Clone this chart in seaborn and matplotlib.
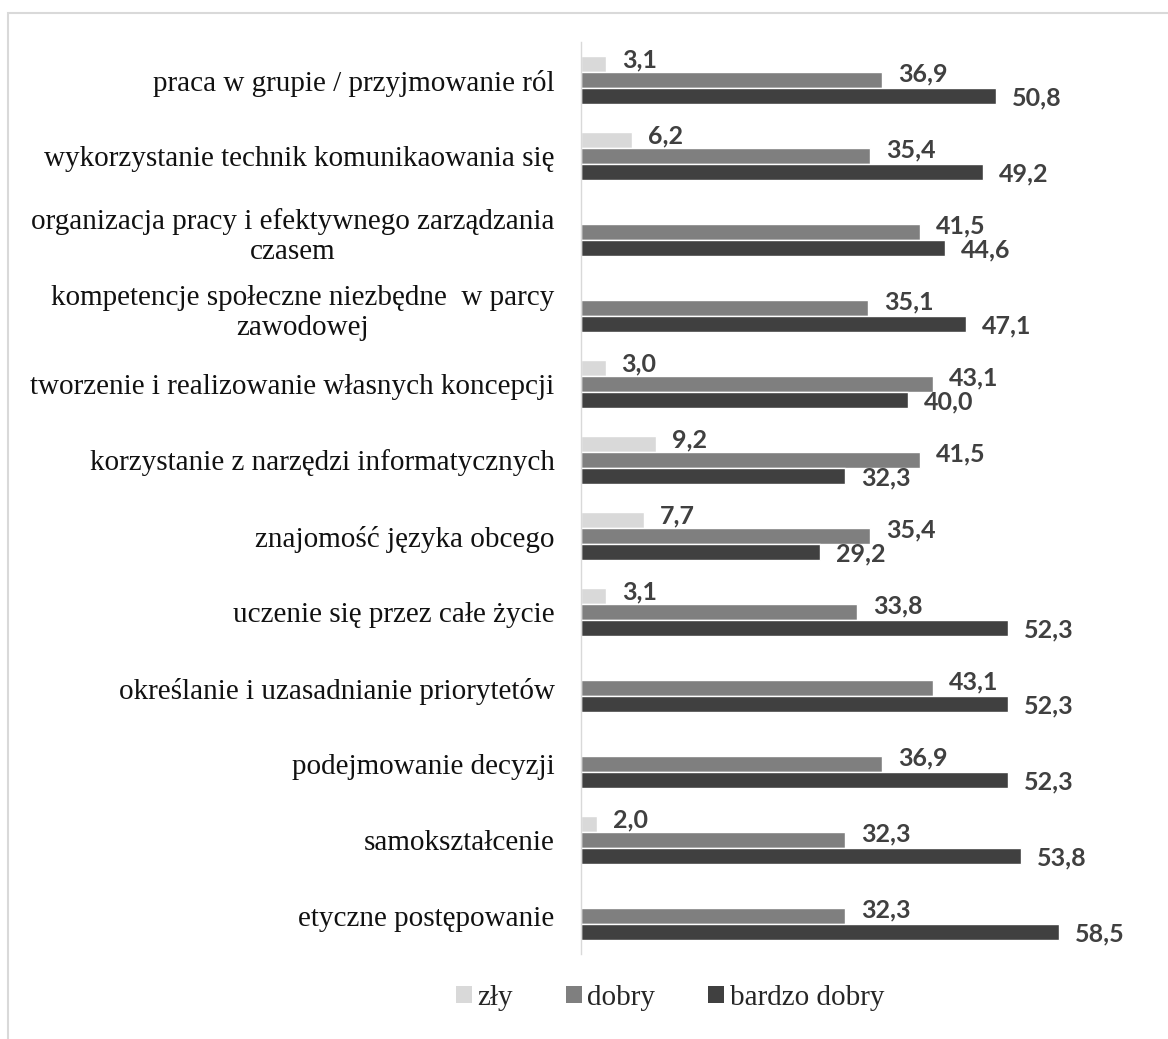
import matplotlib

matplotlib.use("Agg")

import matplotlib.pyplot as plt
import pandas as pd
import seaborn as sns
from matplotlib.patches import Patch, Rectangle

# ==========================================
# Data
# ==========================================

categories = [
    "praca w grupie / przyjmowanie ról",
    "wykorzystanie technik komunikaowania się",
    "organizacja pracy i efektywnego zarządzania\nczasem",
    "kompetencje społeczne niezbędne  w parcy\nzawodowej",
    "tworzenie i realizowanie własnych koncepcji",
    "korzystanie z narzędzi informatycznych",
    "znajomość języka obcego",
    "uczenie się przez całe życie",
    "określanie i uzasadnianie priorytetów",
    "podejmowanie decyzji",
    "samokształcenie",
    "etyczne postępowanie",
]

series_names = ["zły", "dobry", "bardzo dobry"]

zly = [3.1, 6.2, None, None, 3.0, 9.2, 7.7, 3.1, None, None, 2.0, None]
dobry = [36.9, 35.4, 41.5, 35.1, 43.1, 41.5, 35.4, 33.8, 43.1, 36.9, 32.3, 32.3]
bardzo_dobry = [50.8, 49.2, 44.6, 47.1, 40.0, 32.3, 29.2, 52.3, 52.3, 52.3, 53.8, 58.5]

colors = ["#d9d9d9", "#7f7f7f", "#404040"]

# ==========================================
# Long table
# ==========================================

rows = []
for name, values in zip(series_names, [zly, dobry, bardzo_dobry]):
    for cat, v in zip(categories, values):
        rows.append({"kategoria": cat, "ocena": name,
                     "wartosc": 0.0 if v is None else v,
                     "brak": v is None})
df = pd.DataFrame(rows)

# ==========================================
# Plot
# ==========================================

sns.set_style("white")
plt.rcParams["font.family"] = ["Liberation Serif", "DejaVu Serif"]

fig = plt.figure(figsize=(11.68, 10.39), dpi=100)
W, H = 1168, 1039
ax = fig.add_axes([581 / W, 1 - 954 / H, 531 / W, 912 / H])

sns.barplot(
    data=df,
    y="kategoria",
    x="wartosc",
    hue="ocena",
    order=categories,
    hue_order=series_names,
    palette=colors,
    orient="h",
    width=0.63,
    errorbar=None,
    legend=False,
    saturation=1,
    ax=ax,
)

ax.set_xlim(0, 65)
ax.set_xlabel("")
ax.set_ylabel("")
ax.set_xticks([])

for side in ["top", "right", "bottom"]:
    ax.spines[side].set_visible(False)
ax.spines["left"].set_color("#d9d9d9")
ax.spines["left"].set_linewidth(1)

ax.tick_params(axis="y", length=0, pad=19, labelsize=21, labelcolor="#111111")
plt.setp(ax.get_yticklabels(), multialignment="center", linespacing=1.2)

# ==========================================
# Value labels
# ==========================================

offsets = [4, 6, -2]
for container, name, dy in zip(ax.containers, series_names, offsets):
    missing = df[df["ocena"] == name]["brak"].tolist()
    for patch, skip in zip(container, missing):
        if skip:
            continue
        w = patch.get_width()
        yc = patch.get_y() + patch.get_height() / 2
        ax.annotate(
            f"{w:.1f}".replace(".", ","),
            xy=(w, yc),
            xytext=(16, dy),
            textcoords="offset pixels",
            ha="left",
            va="center",
            fontsize=18,
            fontweight="bold",
            family=["Lato", "DejaVu Sans"],
            color="#404040",
            annotation_clip=False,
        )

# ==========================================
# Legend
# ==========================================

handles = [Patch(facecolor=c, edgecolor="none") for c in colors]
fig.legend(
    handles,
    series_names,
    loc="center",
    bbox_to_anchor=(670 / W, 1 - 998 / H),
    ncol=3,
    frameon=False,
    fontsize=21,
    handlelength=0.55,
    handleheight=0.55,
    handletextpad=0.2,
    columnspacing=1.8,
)

# outer chart frame
fig.patches.append(
    Rectangle((8 / W, -0.1), 1.2, 1.1 - 13 / H, transform=fig.transFigure,
              fill=False, edgecolor="#d9d9d9", linewidth=1.5, clip_on=False)
)

fig.savefig("out.png", dpi=100, facecolor="white")
plt.close(fig)
